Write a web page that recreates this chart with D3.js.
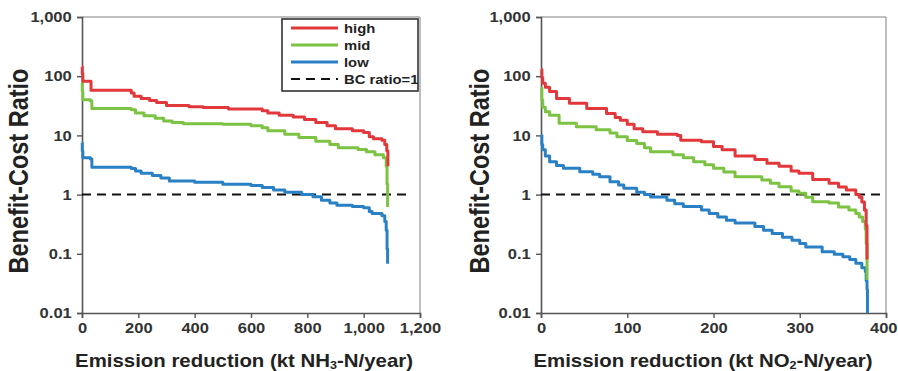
<!DOCTYPE html>
<html>
<head>
<meta charset="utf-8">
<script src="https://cdn.jsdelivr.net/npm/d3@7"></script>
<style>
  html, body { margin: 0; padding: 0; background: #fff; }
  svg { display: block; font-family: "Liberation Sans", Arial, sans-serif; }
</style>
</head>
<body>
<svg id="chart" width="898" height="371"></svg>
<script>
// Benefit-cost ratio curves: [emission reduction (kt N/year), BC ratio]
const nh3High = [[0,145],[1,110],[3,82],[32,58],[175,52],[185,46],[210,42],[240,39],[265,36],[300,32],[380,30.5],[430,29.5],[520,28],[640,26],[660,24],[700,22],[750,20.5],[790,18.5],[830,16.5],[870,14.5],[900,13],[960,12],[1000,11.2],[1020,9.5],[1035,8.8],[1065,8.3],[1075,7],[1082,5.5],[1086,3]];
const nh3Mid  = [[0,78],[1,55],[3,40],[30,38],[35,28.5],[175,27],[190,24],[220,21.5],[260,19.5],[290,17.5],[320,16.5],[360,15.8],[500,15.5],[600,14.5],[640,13.5],[660,12],[720,10.5],[770,9.2],[830,8],[880,7],[910,6.2],[980,5.8],[1010,5.3],[1040,4.7],[1070,4.2],[1080,3],[1083,1.5],[1085,0.62]];
const nh3Low  = [[0,7.5],[1,5.5],[3,4.2],[30,4],[35,2.9],[175,2.75],[190,2.5],[210,2.3],[250,2.1],[280,1.9],[310,1.7],[400,1.62],[500,1.5],[600,1.42],[640,1.32],[680,1.2],[720,1.1],[780,1.0],[820,0.92],[850,0.8],[880,0.72],[905,0.66],[960,0.63],[1000,0.6],[1020,0.52],[1030,0.48],[1065,0.44],[1075,0.35],[1080,0.25],[1083,0.12],[1085,0.068]];

const no2High = [[0,130],[1,95],[2,76],[5,65],[10,55],[18,42],[33,35],[53,28.5],[76,23.5],[86,20],[92,18],[100,15.5],[108,13],[118,11.5],[135,10.5],[158,10],[162,8.3],[186,7.8],[200,6.5],[210,5.7],[225,4.5],[248,3.9],[262,3.4],[276,3.0],[290,2.5],[299,2.3],[315,1.8],[334,1.55],[345,1.35],[354,1.2],[365,1.0],[369,0.9],[372,0.75],[375,0.55],[377,0.3],[378,0.08]];
const no2Mid  = [[0,63],[1,40],[2,30],[5,25],[10,22],[21,16],[41,14],[64,12.4],[80,11],[88,9.5],[100,8.2],[111,7.3],[120,6.2],[127,5.3],[153,4.7],[165,4.2],[177,3.6],[190,3.2],[200,2.8],[212,2.4],[225,2.0],[256,1.76],[266,1.55],[276,1.36],[290,1.15],[299,1.05],[307,0.9],[315,0.76],[334,0.72],[345,0.62],[357,0.55],[365,0.48],[369,0.42],[373,0.35],[376,0.26],[377,0.15],[378,0.036]];
const no2Low  = [[0,10],[1,7],[2,5.7],[5,4.5],[10,3.6],[18,3.1],[26,2.8],[45,2.44],[60,2.2],[68,2.0],[80,1.65],[90,1.45],[96,1.28],[111,1.1],[120,1.0],[127,0.91],[146,0.8],[155,0.7],[165,0.63],[186,0.55],[195,0.48],[205,0.42],[215,0.37],[225,0.33],[248,0.29],[258,0.25],[268,0.22],[280,0.19],[291,0.17],[300,0.15],[307,0.13],[326,0.108],[340,0.098],[350,0.089],[358,0.08],[365,0.069],[372,0.058],[376,0.05],[377,0.035],[378,0.025],[378.5,0.01]];

const yTicks = [0.01, 0.1, 1, 10, 100, 1000];
const nh3Ticks = [0, 200, 400, 600, 800, 1000, 1200];
const no2Ticks = [0, 100, 200, 300, 400];

const seriesNames = ["high", "mid", "low"];
const seriesColors = { high: "#e2383b", mid: "#7cc243", low: "#2a80c5" };
const refLabel = "BC ratio=1";

// type is set slightly wide
const widen = "scale(1.14,1)";

const svg = d3.select("#chart");
const W = +svg.attr("width");

function panel(opts) {
  const { left, right, top, bottom, xMax, xTicks, series, refEnd, titleX, pollutant } = opts;
  const x = d3.scaleLinear().domain([0, xMax]).range([left, right]);
  const y = d3.scaleLog().domain([0.01, 1000]).range([bottom, top]);
  const g = svg.append("g");

  // light frame on top and right
  g.append("line").attr("x1", left).attr("x2", right).attr("y1", top).attr("y2", top)
    .attr("stroke", "#a8a8a8").attr("stroke-width", 1.5);
  g.append("line").attr("x1", right).attr("x2", right).attr("y1", top).attr("y2", bottom)
    .attr("stroke", "#a8a8a8").attr("stroke-width", 1.5);

  const yAxis = g.append("g").attr("transform", `translate(${left},0)`)
    .call(d3.axisLeft(y).tickValues(yTicks).tickFormat(d3.format(",")).tickSize(5).tickPadding(4));
  const xAxis = g.append("g").attr("transform", `translate(0,${bottom})`)
    .call(d3.axisBottom(x).tickValues(xTicks).tickFormat(d3.format(",")).tickSize(5).tickPadding(5));
  [yAxis, xAxis].forEach(a => {
    a.select(".domain").attr("stroke", "#555").attr("stroke-width", 1.6);
    a.selectAll(".tick line").attr("stroke", "#555").attr("stroke-width", 1.4);
    a.selectAll(".tick text").attr("fill", "#333").attr("transform", widen)
      .style("font-size", "14.5px").style("font-weight", "bold");
  });
  // keep the last x label inside the page
  xAxis.selectAll(".tick text").each(function (d) {
    const half = this.getBBox().width * 1.14 / 2;
    const over = x(d) + half - (W - 1);
    if (over > 0) d3.select(this).attr("x", -over / 1.14);
  });

  // reference line BC = 1
  g.append("line").attr("x1", x(0)).attr("x2", x(refEnd)).attr("y1", y(1)).attr("y2", y(1))
    .attr("stroke", "#111").attr("stroke-width", 2).attr("stroke-dasharray", "9,6");

  const line = d3.line().x(d => x(d[0])).y(d => y(d[1])).curve(d3.curveStepAfter);
  ["low", "mid", "high"].forEach(k => {
    g.append("path").datum(series[k]).attr("d", line)
      .attr("fill", "none").attr("stroke", seriesColors[k]).attr("stroke-width", 3)
      .attr("stroke-linejoin", "round");
  });

  // axis titles
  g.append("text")
    .attr("transform", `translate(${titleX},${(top + bottom) / 2 + 6}) ${widen} rotate(-90)`)
    .attr("text-anchor", "middle").attr("fill", "#222")
    .style("font-size", "23.5px").style("font-weight", "bold")
    .text("Benefit-Cost Ratio");

  const xt = g.append("text")
    .attr("transform", `translate(${left + 162},367) ${widen}`)
    .attr("text-anchor", "middle").attr("fill", "#222")
    .style("font-size", "17.9px").style("font-weight", "bold");
  xt.append("tspan").text(`Emission reduction (kt ${pollutant[0]}`);
  xt.append("tspan").text(pollutant[1]).style("font-size", "11px").attr("dy", 2);
  xt.append("tspan").text("-N/year)").attr("dy", -2);
  return { x, y, g };
}

panel({
  left: 82, right: 420, top: 17, bottom: 313, xMax: 1200, xTicks: nh3Ticks,
  series: { high: nh3High, mid: nh3Mid, low: nh3Low }, refEnd: 1164, titleX: 28,
  pollutant: ["NH", "3"]
});
panel({
  left: 541, right: 886, top: 17, bottom: 313, xMax: 400, xTicks: no2Ticks,
  series: { high: no2High, mid: no2Mid, low: no2Low }, refEnd: 400, titleX: 489,
  pollutant: ["NO", "2"]
});

// legend
const lg = svg.append("g");
lg.append("rect").attr("x", 282).attr("y", 19).attr("width", 136).attr("height", 72)
  .attr("fill", "#fff").attr("stroke", "#333").attr("stroke-width", 1.6);
const legendItems = seriesNames.map(n => ({ label: n, color: seriesColors[n], dash: null }))
  .concat([{ label: refLabel, color: "#111", dash: "9,6" }]);
legendItems.forEach((d, i) => {
  const yy = 28 + i * 17;
  lg.append("line").attr("x1", 291).attr("x2", 338).attr("y1", yy).attr("y2", yy)
    .attr("stroke", d.color).attr("stroke-width", d.dash ? 2.2 : 3)
    .attr("stroke-dasharray", d.dash);
  lg.append("text").attr("transform", `translate(344,${yy + 5}) ${widen}`).attr("fill", "#222")
    .style("font-size", "13px").style("font-weight", "bold").text(d.label);
});
</script>
</body>
</html>
